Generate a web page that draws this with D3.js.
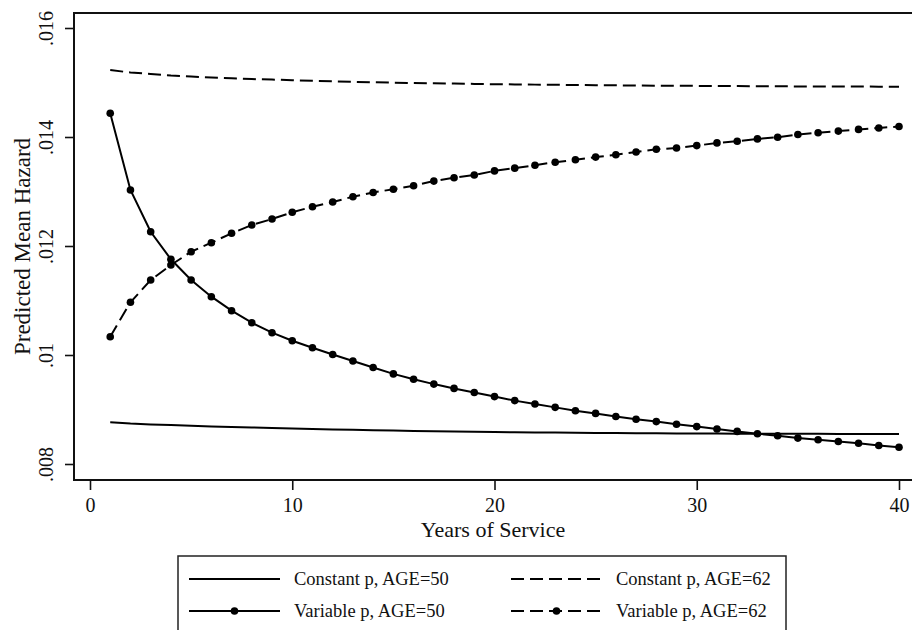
<!DOCTYPE html>
<html>
<head>
<meta charset="utf-8">
<script src="https://cdn.jsdelivr.net/npm/d3@7"></script>
<style>
  html, body { margin: 0; padding: 0; background: #fff; }
  svg { display: block; }
  text { font-family: "Liberation Serif", "Times New Roman", serif; fill: #111; }
</style>
</head>
<body>
<svg id="chart" width="912" height="630"></svg>
<script>
// Years of service (1..40)
const years = d3.range(1, 41);

// Predicted mean hazard, constant p, AGE=50
const constAge50 = [
  0.008765, 0.008741, 0.008727, 0.008714, 0.008701, 0.008690, 0.008679, 0.008670, 0.008661, 0.008651,
  0.008642, 0.008635, 0.008628, 0.008620, 0.008613, 0.008607, 0.008602, 0.008596, 0.008591, 0.008587,
  0.008583, 0.008580, 0.008576, 0.008572, 0.008569, 0.008567, 0.008565, 0.008563, 0.008561, 0.008560,
  0.008558, 0.008557, 0.008556, 0.008555, 0.008554, 0.008553, 0.008552, 0.008551, 0.008550, 0.008550
];

// Predicted mean hazard, constant p, AGE=62
const constAge62 = [
  0.015229, 0.015183, 0.015156, 0.015128, 0.015110, 0.015092, 0.015077, 0.015064, 0.015053, 0.015042,
  0.015031, 0.015022, 0.015013, 0.015004, 0.014996, 0.014991, 0.014985, 0.014980, 0.014974, 0.014969,
  0.014965, 0.014961, 0.014958, 0.014954, 0.014950, 0.014948, 0.014945, 0.014942, 0.014939, 0.014938,
  0.014936, 0.014934, 0.014932, 0.014930, 0.014928, 0.014927, 0.014926, 0.014925, 0.014924, 0.014923
];

// Predicted mean hazard, variable p, AGE=50
const varAge50 = [
  0.014435, 0.013028, 0.012262, 0.011756, 0.011376, 0.011070, 0.010813, 0.010593, 0.010409, 0.010262,
  0.010134, 0.010009, 0.009890, 0.009771, 0.009653, 0.009554, 0.009466, 0.009387, 0.009312, 0.009237,
  0.009163, 0.009101, 0.009039, 0.008978, 0.008928, 0.008872, 0.008822, 0.008778, 0.008728, 0.008686,
  0.008642, 0.008598, 0.008556, 0.008519, 0.008475, 0.008444, 0.008413, 0.008382, 0.008339, 0.008308
];

// Predicted mean hazard, variable p, AGE=62
const varAge62 = [
  0.010336, 0.010967, 0.011376, 0.011651, 0.011895, 0.012061, 0.012233, 0.012385, 0.012495, 0.012618,
  0.012721, 0.012807, 0.012905, 0.012982, 0.013042, 0.013105, 0.013191, 0.013253, 0.013303, 0.013378,
  0.013428, 0.013483, 0.013538, 0.013582, 0.013631, 0.013675, 0.013725, 0.013774, 0.013798, 0.013842,
  0.013892, 0.013923, 0.013965, 0.013996, 0.014046, 0.014077, 0.014108, 0.014139, 0.014165, 0.014194
];

const xTicks = [0, 10, 20, 30, 40];
const yTicks = [0.008, 0.010, 0.012, 0.014, 0.016];
const yTickLabels = [".008", ".01", ".012", ".014", ".016"];

const seriesNames = [
  "Constant p, AGE=50", "Constant p, AGE=62",
  "Variable p, AGE=50", "Variable p, AGE=62"
];

const DASH = "13,6";

const series = [
  { name: seriesNames[0], values: constAge50, dashed: false, dots: false },
  { name: seriesNames[1], values: constAge62, dashed: true,  dots: false },
  { name: seriesNames[2], values: varAge50,   dashed: false, dots: true },
  { name: seriesNames[3], values: varAge62,   dashed: true,  dots: true }
];

const svg = d3.select("#chart");

// plot region
const frame = { left: 74, top: 13, right: 916, bottom: 480 };
const x = d3.scaleLinear().domain([0, 40]).range([90, 899]);
const y = d3.scaleLinear().domain([0.008, 0.016]).range([464, 28]);

// frame box
svg.append("rect")
  .attr("x", frame.left).attr("y", frame.top)
  .attr("width", frame.right - frame.left).attr("height", frame.bottom - frame.top)
  .attr("fill", "none").attr("stroke", "#111").attr("stroke-width", 2);

// x axis
const xAxis = svg.append("g")
  .attr("transform", `translate(0,${frame.bottom})`)
  .call(d3.axisBottom(x).tickValues(xTicks).tickSize(10).tickPadding(8).tickFormat(d3.format("d")));
xAxis.select(".domain").remove();
xAxis.selectAll(".tick line").attr("stroke", "#111").attr("stroke-width", 1.6);
xAxis.selectAll(".tick text").attr("font-size", 20).attr("fill", "#111")
  .style("font-family", '"Liberation Serif", serif');

// y axis with vertical tick labels
const yAxis = svg.append("g")
  .attr("transform", `translate(${frame.left},0)`)
  .call(d3.axisLeft(y).tickValues(yTicks).tickSize(9).tickFormat((d, i) => yTickLabels[i]));
yAxis.select(".domain").remove();
yAxis.selectAll(".tick line").attr("stroke", "#111").attr("stroke-width", 1.6);
yAxis.selectAll(".tick text")
  .attr("x", null).attr("dy", null)
  .attr("text-anchor", "middle")
  .attr("transform", "translate(-21,0) rotate(-90)")
  .attr("font-size", 20).attr("fill", "#111")
  .style("font-family", '"Liberation Serif", serif');

// axis titles
svg.append("text")
  .attr("x", (frame.left + frame.right) / 2 - 2).attr("y", 537)
  .attr("text-anchor", "middle").attr("font-size", 22)
  .text("Years of Service");

svg.append("text")
  .attr("transform", `translate(30,${(frame.top + frame.bottom) / 2}) rotate(-90)`)
  .attr("text-anchor", "middle").attr("font-size", 23)
  .text("Predicted Mean Hazard");

// series lines and markers
const line = d3.line().x((d, i) => x(years[i])).y(d => y(d));

series.forEach(s => {
  svg.append("path")
    .datum(s.values)
    .attr("d", line)
    .attr("fill", "none")
    .attr("stroke", "#000")
    .attr("stroke-width", 2)
    .attr("stroke-dasharray", s.dashed ? DASH : null);
  if (s.dots) {
    svg.append("g").selectAll("circle")
      .data(s.values)
      .join("circle")
      .attr("cx", (d, i) => x(years[i]))
      .attr("cy", d => y(d))
      .attr("r", 3.8)
      .attr("fill", "#000");
  }
});

// legend
const legend = svg.append("g");
legend.append("rect")
  .attr("x", 178).attr("y", 556).attr("width", 608).attr("height", 90)
  .attr("fill", "#fff").attr("stroke", "#222").attr("stroke-width", 1.5);

const legendCols = [189, 511];
const legendRows = [579, 611];
series.forEach((s, i) => {
  const col = i % 2, row = Math.floor(i / 2);
  const x0 = legendCols[col], x1 = x0 + 91, yy = legendRows[row];
  legend.append("line")
    .attr("x1", x0).attr("x2", x1).attr("y1", yy).attr("y2", yy)
    .attr("stroke", "#000").attr("stroke-width", 2)
    .attr("stroke-dasharray", s.dashed ? DASH : null);
  if (s.dots) {
    legend.append("circle")
      .attr("cx", (x0 + x1) / 2).attr("cy", yy).attr("r", 3.8).attr("fill", "#000");
  }
  legend.append("text")
    .attr("x", x0 + 105).attr("y", yy + 6)
    .attr("font-size", 18.5)
    .text(s.name);
});
</script>
</body>
</html>
